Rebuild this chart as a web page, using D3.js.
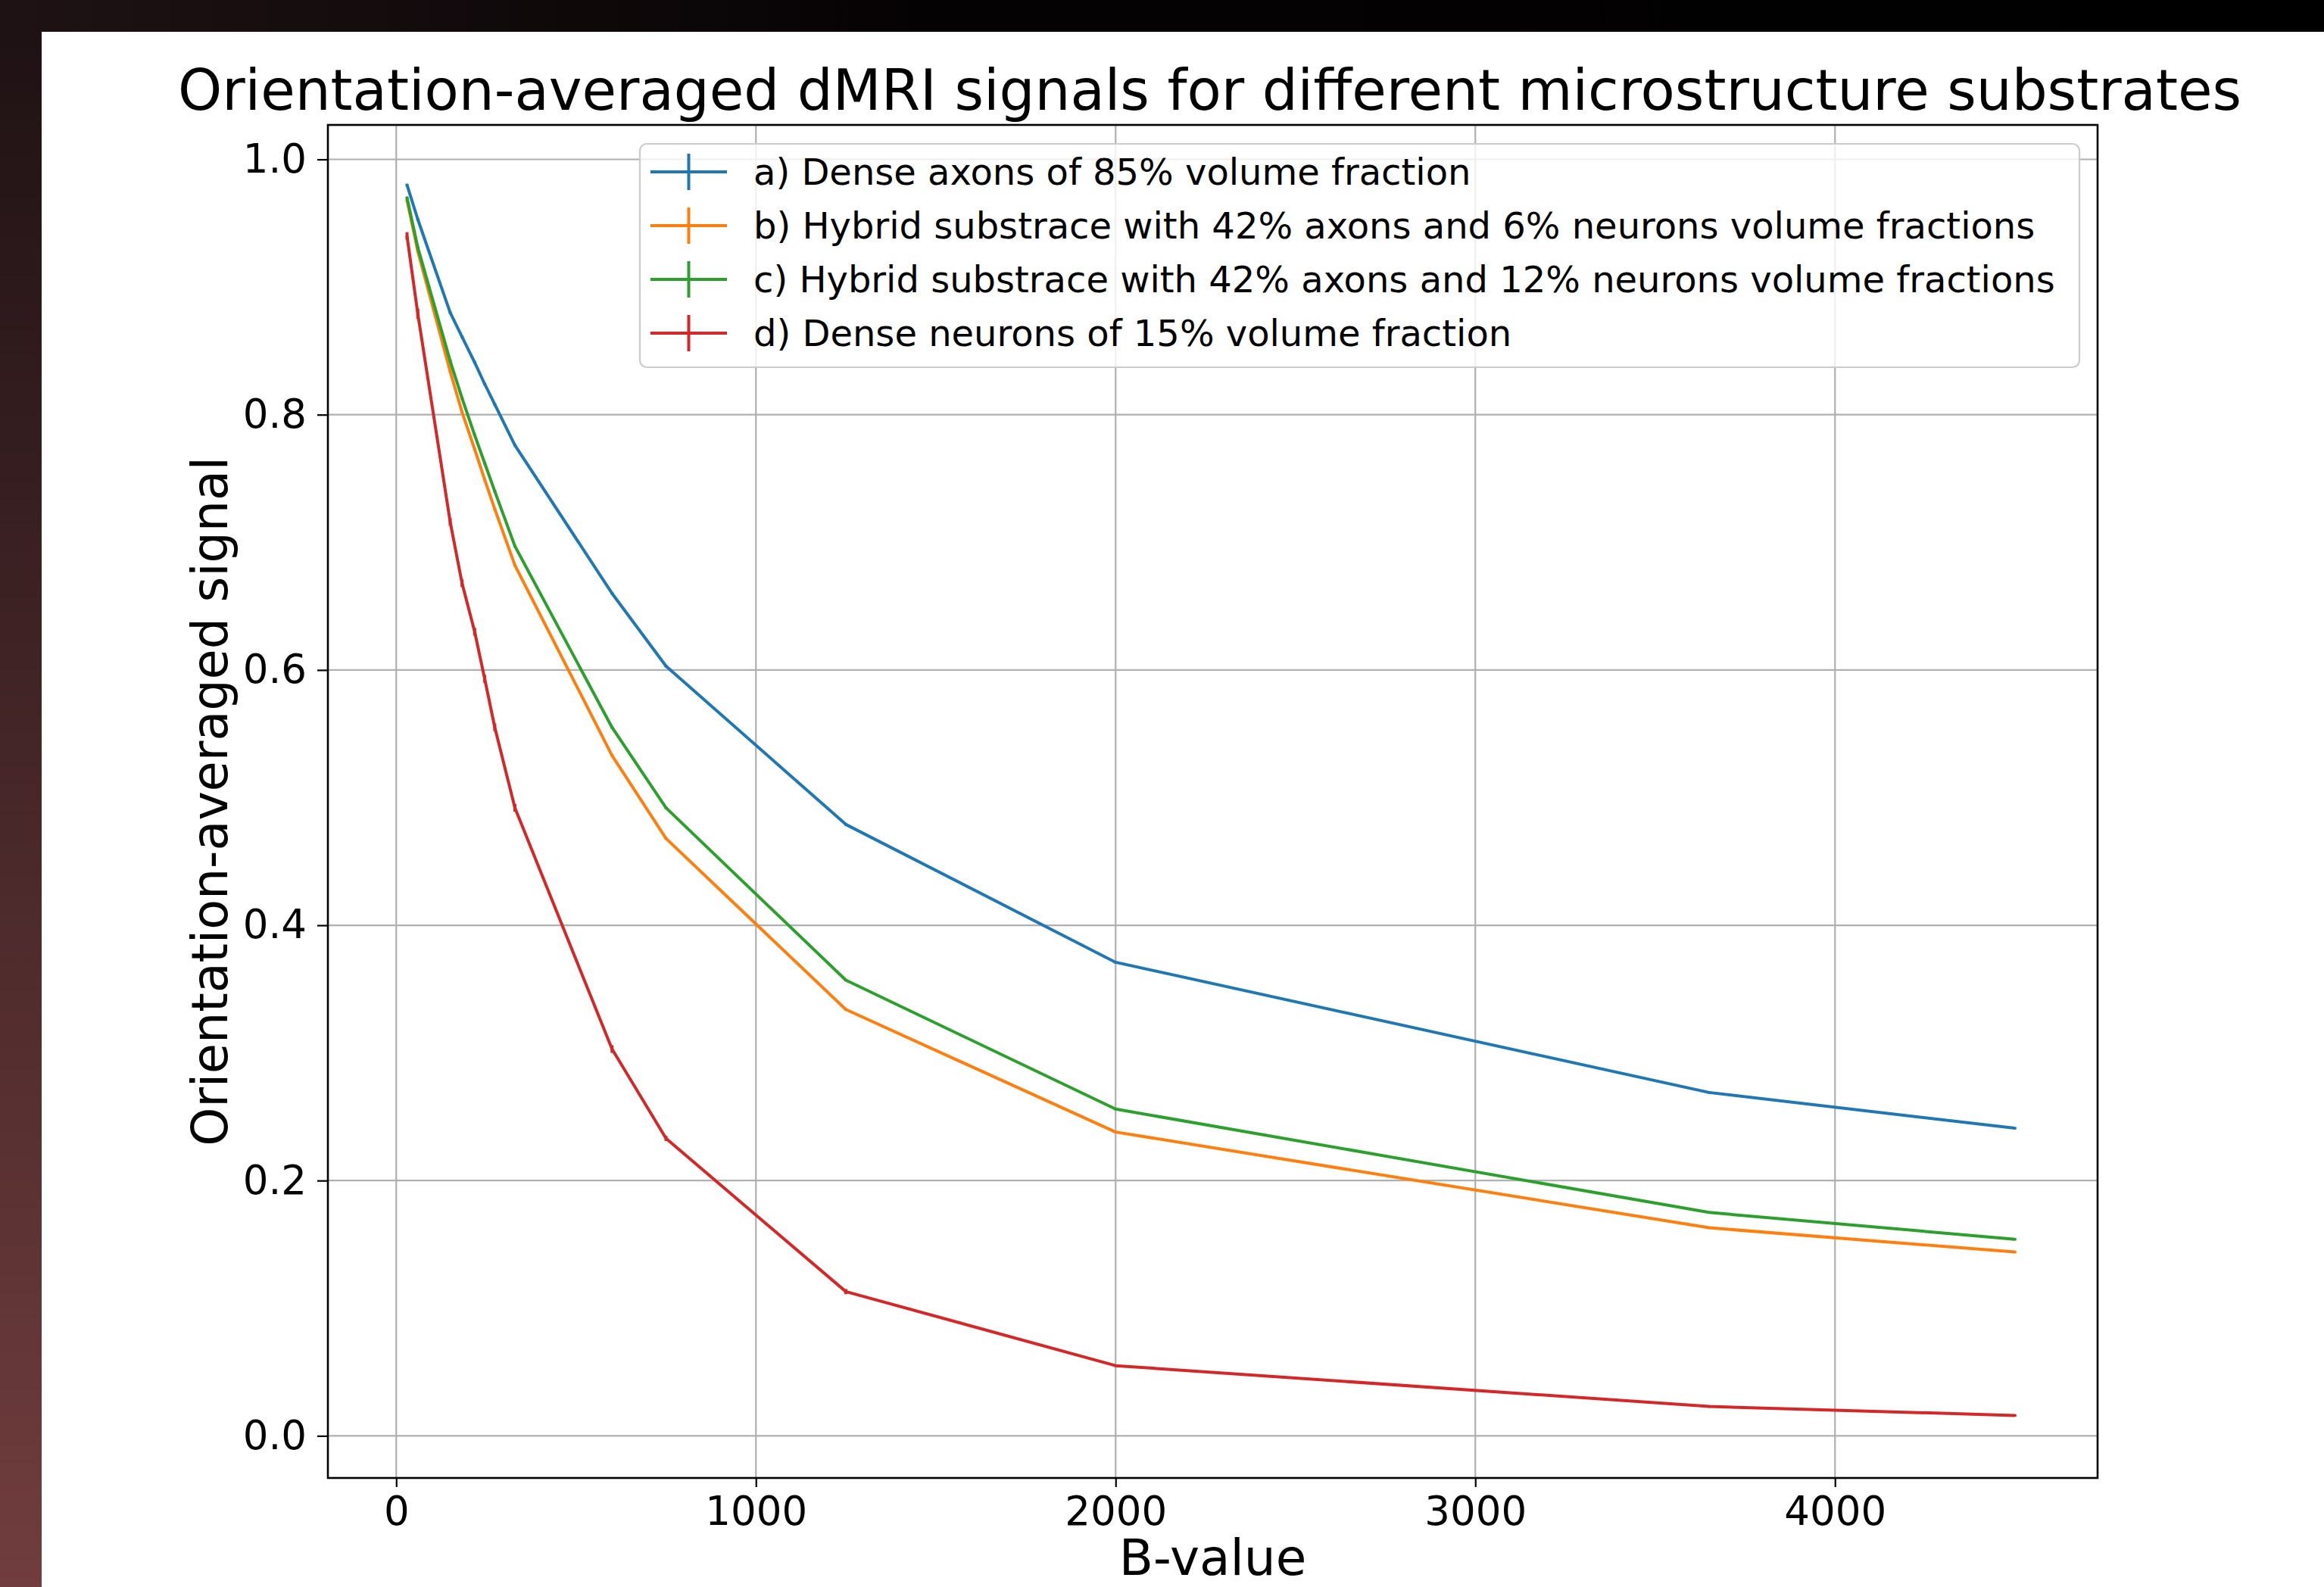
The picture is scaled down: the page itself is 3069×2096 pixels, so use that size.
<!DOCTYPE html>
<html>
<head>
<meta charset="utf-8">
<script src="https://cdn.jsdelivr.net/npm/d3@7"></script>
<style>
  html, body { margin: 0; padding: 0; background: #fff; overflow: hidden; width: 100%; height: 100%; }
  svg { display: block; width: 100vw; height: 100vh; font-family: "DejaVu Sans", sans-serif; }
</style>
</head>
<body>
<svg id="chart" viewBox="0 0 3069 2096" preserveAspectRatio="none"></svg>
<script>
// b-values
const bValues = [30, 60, 150, 183, 218, 246, 274, 330, 600, 750, 1250, 2000, 3650, 4500]

const denseAxons   = [0.980, 0.953, 0.880, 0.861, 0.841, 0.824, 0.808, 0.776, 0.660, 0.603, 0.479, 0.371, 0.269, 0.241]
const hybrid6      = [0.968, 0.928, 0.834, 0.802, 0.773, 0.749, 0.726, 0.682, 0.533, 0.468, 0.334, 0.238, 0.163, 0.144]
const hybrid12     = [0.970, 0.931, 0.842, 0.813, 0.784, 0.762, 0.740, 0.697, 0.555, 0.492, 0.357, 0.256, 0.175, 0.154]
const denseNeurons = [0.940, 0.879, 0.716, 0.668, 0.630, 0.593, 0.555, 0.492, 0.303, 0.233, 0.113, 0.055, 0.023, 0.016]

// error bars (tiny, only the red one is visible)
const axonsErr   = [0.001, 0.001, 0.001, 0.001, 0.001, 0.001, 0.001, 0.001, 0.001, 0.001, 0.001, 0.001, 0.001, 0.001]
const hyb6Err    = [0.001, 0.001, 0.001, 0.001, 0.001, 0.001, 0.001, 0.001, 0.001, 0.001, 0.001, 0.001, 0.001, 0.001]
const hyb12Err   = [0.001, 0.001, 0.001, 0.001, 0.001, 0.001, 0.001, 0.001, 0.001, 0.001, 0.001, 0.001, 0.001, 0.001]
const neuronsErr = [0.003, 0.004, 0.003, 0.003, 0.003, 0.003, 0.003, 0.003, 0.003, 0.002, 0.002, 0.001, 0.001, 0.001]

const seriesNames = [
    'a) Dense axons of 85% volume fraction',
    'b) Hybrid substrace with 42% axons and 6% neurons volume fractions',
    'c) Hybrid substrace with 42% axons and 12% neurons volume fractions',
    'd) Dense neurons of 15% volume fraction'
]
const seriesColors = ['#1f77b4', '#ff7f0e', '#2ca02c', '#d62728']

const xTicks = [0, 1000, 2000, 3000, 4000]
const yTicks = [0.0, 0.2, 0.4, 0.6, 0.8, 1.0]

const titleText = 'Orientation-averaged dMRI signals for different microstructure substrates'
const xLabel = 'B-value'
const yLabel = 'Orientation-averaged signal'

const series = [denseAxons, hybrid6, hybrid12, denseNeurons].map((vals, i) => ({
    name: seriesNames[i],
    color: seriesColors[i],
    points: bValues.map((b, j) => ({
        b: b,
        v: vals[j],
        e: [axonsErr, hyb6Err, hyb12Err, neuronsErr][i][j]
    }))
}))

const svg = d3.select('#chart')

// backdrop: dark strip on the left, black bar on top, white page
const defs = svg.append('defs')
const sideGrad = defs.append('linearGradient').attr('id', 'side')
    .attr('x1', 0).attr('y1', 0).attr('x2', 0).attr('y2', 1)
sideGrad.append('stop').attr('offset', '0%').attr('stop-color', '#1d1113')
sideGrad.append('stop').attr('offset', '100%').attr('stop-color', '#713d3e')
const topGrad = defs.append('linearGradient').attr('id', 'topbar')
    .attr('x1', 0).attr('y1', 0).attr('x2', 1).attr('y2', 0)
topGrad.append('stop').attr('offset', '0%').attr('stop-color', '#1e1214')
topGrad.append('stop').attr('offset', '40%').attr('stop-color', '#050203')
topGrad.append('stop').attr('offset', '100%').attr('stop-color', '#000')

svg.append('rect').attr('x', 0).attr('y', 0).attr('width', 3069).attr('height', 2096).attr('fill', '#fff')
svg.append('rect').attr('x', 0).attr('y', 0).attr('width', 55).attr('height', 2096).attr('fill', 'url(#side)')
svg.append('rect').attr('x', 0).attr('y', 0).attr('width', 3069).attr('height', 42).attr('fill', 'url(#topbar)')

// plot box
const plotL = 433, plotR = 2770, plotT = 165, plotB = 1952

const x = d3.scaleLinear().domain([-190, 4730]).range([plotL, plotR])
const y = d3.scaleLinear().domain([-0.033, 1.027]).range([plotB, plotT])

// grid
const grid = svg.append('g').attr('class', 'grid')
grid.selectAll('line.gx').data(xTicks).enter().append('line')
    .attr('x1', d => x(d)).attr('x2', d => x(d))
    .attr('y1', plotT).attr('y2', plotB)
    .attr('stroke', '#b0b0b0').attr('stroke-width', 2.2)
grid.selectAll('line.gy').data(yTicks).enter().append('line')
    .attr('x1', plotL).attr('x2', plotR)
    .attr('y1', d => y(d)).attr('y2', d => y(d))
    .attr('stroke', '#b0b0b0').attr('stroke-width', 2.2)

// series lines + error bars
const line = d3.line().x(d => x(d.b)).y(d => y(d.v))
const lines = svg.append('g').attr('class', 'series')
series.forEach(s => {
    let g = lines.append('g')
    g.append('path').datum(s.points)
        .attr('d', line)
        .attr('fill', 'none')
        .attr('stroke', s.color)
        .attr('stroke-width', 4)
        .attr('stroke-linejoin', 'round')
    g.selectAll('line.err').data(s.points).enter().append('line')
        .attr('x1', d => x(d.b)).attr('x2', d => x(d.b))
        .attr('y1', d => y(d.v - d.e)).attr('y2', d => y(d.v + d.e))
        .attr('stroke', s.color)
        .attr('stroke-width', 4)
})

// axes
const xAxis = d3.axisBottom(x).tickValues(xTicks).tickFormat(d3.format('d')).tickSize(12).tickPadding(12)
const yAxis = d3.axisLeft(y).tickValues(yTicks).tickFormat(d3.format('.1f')).tickSize(14).tickPadding(14)

const gx = svg.append('g').attr('transform', `translate(0,${plotB})`).call(xAxis)
const gy = svg.append('g').attr('transform', `translate(${plotL},0)`).call(yAxis)
;[gx, gy].forEach(g => {
    g.select('.domain').remove()
    g.selectAll('.tick line').attr('stroke', '#000').attr('stroke-width', 2.2)
    g.selectAll('.tick text')
        .attr('fill', '#000')
        .style('font-family', '"DejaVu Sans", sans-serif')
        .style('font-size', '53px')
})

// frame
svg.append('rect')
    .attr('x', plotL).attr('y', plotT)
    .attr('width', plotR - plotL).attr('height', plotB - plotT)
    .attr('fill', 'none').attr('stroke', '#000').attr('stroke-width', 2.6)

// titles
svg.append('text')
    .attr('x', (plotL + plotR) / 2 - 4).attr('y', 145)
    .attr('text-anchor', 'middle')
    .style('font-size', '74px')
    .text(titleText)

svg.append('text')
    .attr('x', (plotL + plotR) / 2).attr('y', 2080)
    .attr('text-anchor', 'middle')
    .style('font-size', '66px')
    .text(xLabel)

svg.append('text')
    .attr('transform', `translate(300,${(plotT + plotB) / 2}) rotate(-90)`)
    .attr('text-anchor', 'middle')
    .style('font-size', '65px')
    .text(yLabel)

// legend
const legend = svg.append('g').attr('class', 'legend')
legend.append('rect')
    .attr('x', 845).attr('y', 190)
    .attr('width', 2746 - 845).attr('height', 485 - 190)
    .attr('rx', 9).attr('ry', 9)
    .attr('fill', '#fff').attr('fill-opacity', 0.8)
    .attr('stroke', '#cccccc').attr('stroke-width', 2.2)

const rowY = d3.scaleLinear().domain([0, 3]).range([227, 440])
const items = legend.selectAll('g.item').data(series).enter().append('g')
    .attr('transform', (d, i) => `translate(0,${rowY(i)})`)
items.append('line')
    .attr('x1', 859).attr('x2', 960).attr('y1', 0).attr('y2', 0)
    .attr('stroke', d => d.color).attr('stroke-width', 4)
items.append('line')
    .attr('x1', 909.5).attr('x2', 909.5).attr('y1', -24).attr('y2', 24)
    .attr('stroke', d => d.color).attr('stroke-width', 4)
items.append('text')
    .attr('x', 995).attr('y', 0)
    .attr('dy', '0.36em')
    .style('font-size', '48px')
    .text(d => d.name)
</script>
</body>
</html>
